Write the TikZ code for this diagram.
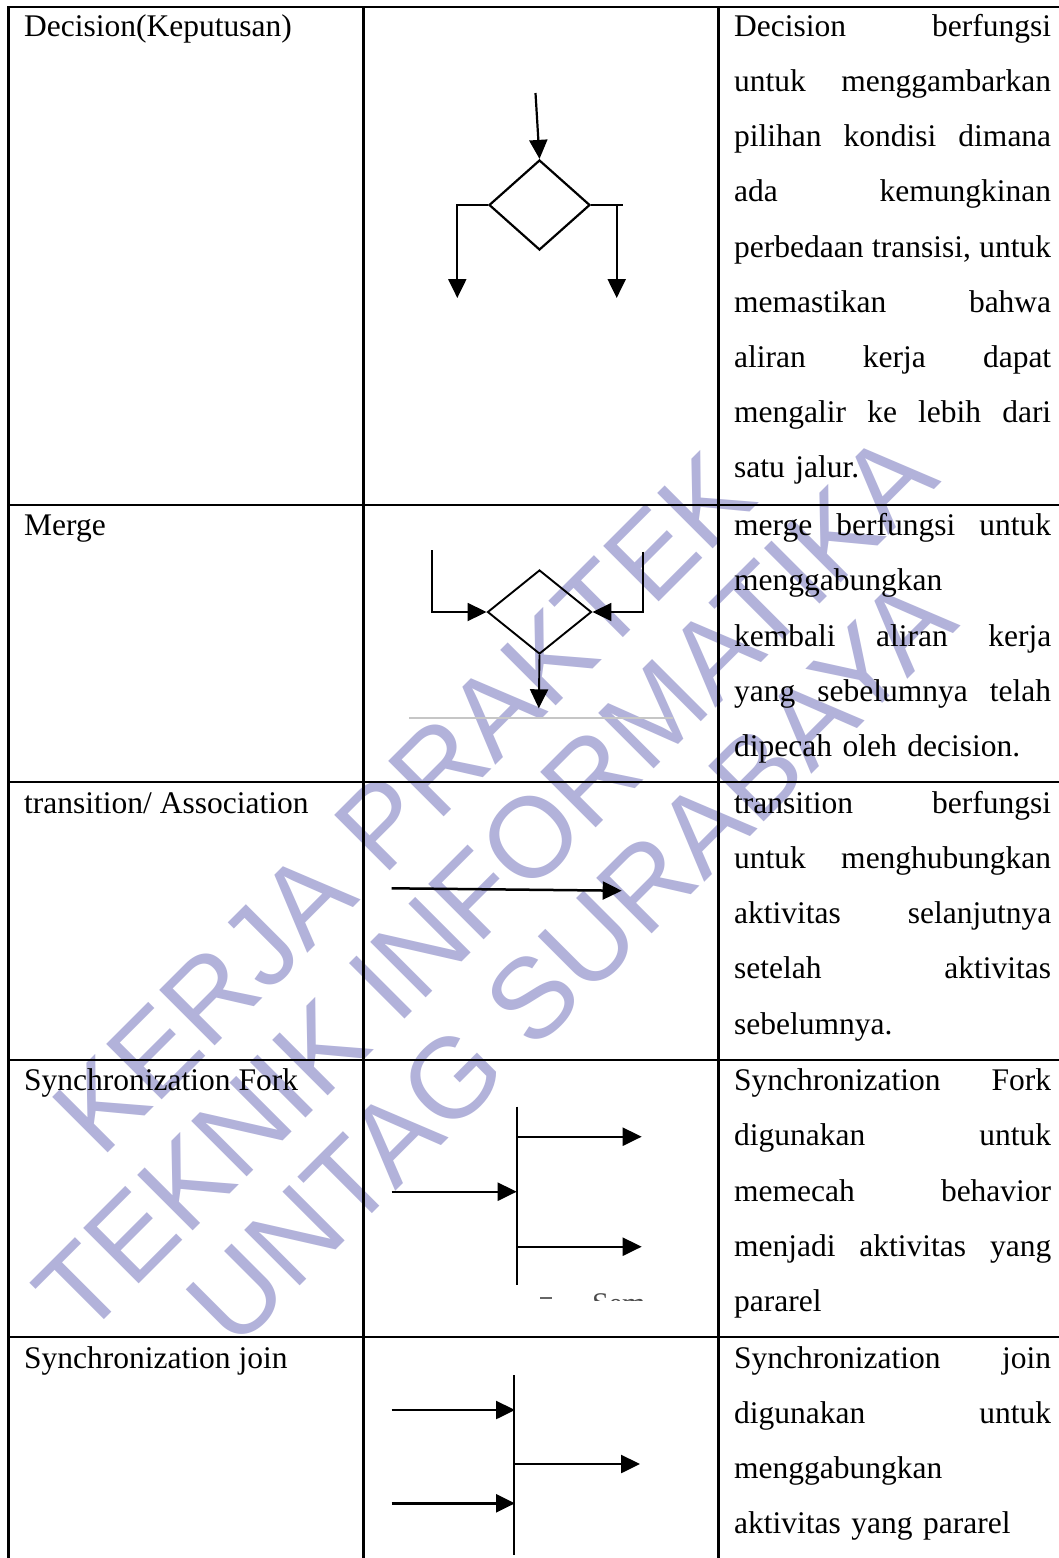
\documentclass[tikz,border=0pt]{standalone}
\usepackage{fontspec}
\setmainfont{Liberation Serif}
\newfontfamily\wmfont{Liberation Sans}
\usetikzlibrary{arrows.meta,shapes.geometric}

\definecolor{wmlav}{RGB}{178,178,218}
% one fully justified line of the description column (words separated by \hfill)
\newcommand\justline[1]{\leavevmode\hbox to 317pt{#1}}

\tikzset{
  tablerule/.style={line width=2.4pt, line cap=rect},
  cell/.style={anchor=base west, inner sep=0pt, font=\fontsize{31.5}{55.2}\selectfont},
  desc/.style={anchor=north west, inner sep=0pt, text width=317pt, align=left,
               font=\fontsize{31.5}{55.2}\selectfont},
  sym/.style={line width=2.2pt, black},
  tip/.style={-{Triangle[length=19pt,width=18pt]}},
  dia/.style={diamond, draw, line width=2.2pt, inner sep=0pt},
  wm/.style={rotate=45, anchor=base, inner sep=0pt, text=wmlav,
             font=\wmfont\fontsize{114}{115}\selectfont},
}

\begin{document}
\begin{tikzpicture}[x=1pt,y=-1pt]
\useasboundingbox (0,0) rectangle (1059,1558);
\fill[white] (0,0) rectangle (1059,1558);

% ---------- watermark (behind everything) ----------
\node[wm] (wm1) at (430.6,830.6) {KERJA PRAKTEK};
\node[wm] (wm2) at (512.9,910.9) {TEKNIK INFORMATIKA};
\node[wm] (wm3) at (598.2,988.2) {UNTAG SURABAYA};

% ---------- table grid ----------
\foreach \yy in {7,505,782,1060,1337}
  \draw[tablerule] (8.5,\yy) -- (1062,\yy);
\foreach \xx in {8.5,363.5,718.5}
  \draw[tablerule] (\xx,7) -- (\xx,1562);

% ---------- first column ----------
\node[cell] (n1) at (24,36)    {Decision(Keputusan)};
\node[cell] (n2) at (24,535.5) {Merge};
\node[cell] (n3) at (24,813)   {transition/ Association};
\node[cell] (n4) at (24,1090.5){Synchronization Fork};
\node[cell] (n5) at (24,1368)  {Synchronization join};

% ---------- third column ----------
\node[desc] (d1) at (734,11) {\rule{0pt}{25pt}\justline{Decision\hfill berfungsi}\\
  \justline{untuk\hfill menggambarkan}\\
  \justline{pilihan\hfill kondisi\hfill dimana}\\
  \justline{ada\hfill kemungkinan}\\
  \justline{perbedaan\hfill transisi,\hfill untuk}\\
  \justline{memastikan\hfill bahwa}\\
  \justline{aliran\hfill kerja\hfill dapat}\\
  \justline{mengalir\hfill ke\hfill lebih\hfill dari}\\
  satu jalur.};
\node[desc] (d2) at (734,510.5) {\rule{0pt}{25pt}\justline{merge\hfill berfungsi\hfill untuk}\\
  menggabungkan\\
  \justline{kembali\hfill aliran\hfill kerja}\\
  \justline{yang\hfill sebelumnya\hfill telah}\\
  dipecah oleh decision.};
\node[desc] (d3) at (734,788) {\rule{0pt}{25pt}\justline{transition\hfill berfungsi}\\
  \justline{untuk\hfill menghubungkan}\\
  \justline{aktivitas\hfill selanjutnya}\\
  \justline{setelah\hfill aktivitas}\\
  sebelumnya.};
\node[desc] (d4) at (734,1065.5) {\rule{0pt}{25pt}\justline{Synchronization\hfill Fork}\\
  \justline{digunakan\hfill untuk}\\
  \justline{memecah\hfill behavior}\\
  \justline{menjadi\hfill aktivitas\hfill yang}\\
  pararel};
\node[desc] (d5) at (734,1343) {\rule{0pt}{25pt}\justline{Synchronization\hfill join}\\
  \justline{digunakan\hfill untuk}\\
  menggabungkan\\
  aktivitas yang pararel};

% ---------- decision symbol ----------
\node[dia, minimum width=101pt, minimum height=90pt] (dec) at (539.5,205) {};
\coordinate (decin) at (535.5,93);
\coordinate (decl) at (457.3,298);
\coordinate (decr) at (616.7,298);
\coordinate (decrx) at (623,205);
\draw[sym,tip] (decin) -- (dec.north);
\draw[sym,tip] (dec.west) -| (decl);
\draw[sym] (dec.east) -- (decrx);
\draw[sym,tip] (dec.east) -| (decr);

% ---------- merge symbol ----------
\node[dia, line width=1.9pt, minimum width=104pt, minimum height=84pt] (mrg) at (539.5,612) {};
\coordinate (mgl) at (432.3,550);
\coordinate (mgr) at (643.3,551.7);
\coordinate (mgout) at (538.8,708.3);
\coordinate (mgla) at (409,718);
\coordinate (mglb) at (673,718);
\draw[gray!45, line width=1.5pt] (mgla) -- (mglb);
\draw[sym,line width=1.9pt,tip] (mgl) |- (mrg.west);
\draw[sym,line width=1.9pt,tip] (mgr) |- (mrg.east);
\draw[sym,line width=1.9pt,tip] (mrg.south) -- (mgout);

% ---------- transition symbol ----------
\coordinate (tra) at (391.7,888.3);
\coordinate (trb) at (621.7,890.7);
\draw[sym,line width=2.5pt,tip] (tra) -- (trb);

% ---------- fork symbol ----------
\coordinate (fkbt) at (516.7,1106.7);
\coordinate (fkbb) at (516.7,1285);
\coordinate (fko1) at (516.7,1136.7);
\coordinate (fko1e) at (641.7,1136.7);
\coordinate (fko2) at (516.7,1246.7);
\coordinate (fko2e) at (641.7,1246.7);
\coordinate (fkin) at (391.7,1191.7);
\coordinate (fkine) at (516.7,1191.7);
\draw[sym] (fkbt) -- (fkbb);
\draw[sym,tip] (fko1) -- (fko1e);
\draw[sym,tip] (fko2) -- (fko2e);
\draw[sym,tip] (fkin) -- (fkine);
\begin{scope}
  \clip (520,1285) rectangle (660,1300.5);
  \node[anchor=base west, inner sep=0pt, text=black!70,
        font=\fontsize{30}{30}\selectfont] (sem) at (592,1313) {Sem};
  \coordinate (dsa) at (540,1297.5);
  \coordinate (dsb) at (552,1297.5);
  \draw[black!60, line width=2pt] (dsa) -- (dsb);
\end{scope}

% ---------- join symbol ----------
\coordinate (jnbt) at (514,1375);
\coordinate (jnbb) at (514,1555);
\coordinate (jni1) at (391.7,1410);
\coordinate (jni1e) at (515,1410);
\coordinate (jni2) at (391.7,1503.3);
\coordinate (jni2e) at (515,1503.3);
\coordinate (jno) at (514,1464);
\coordinate (jnoe) at (640,1464);
\draw[sym,line width=2.5pt] (jnbt) -- (jnbb);
\draw[sym,line width=2.5pt,tip] (jni1) -- (jni1e);
\draw[sym,line width=2.5pt,tip] (jni2) -- (jni2e);
\draw[sym,line width=2.5pt,tip] (jno) -- (jnoe);
\end{tikzpicture}
\end{document}
